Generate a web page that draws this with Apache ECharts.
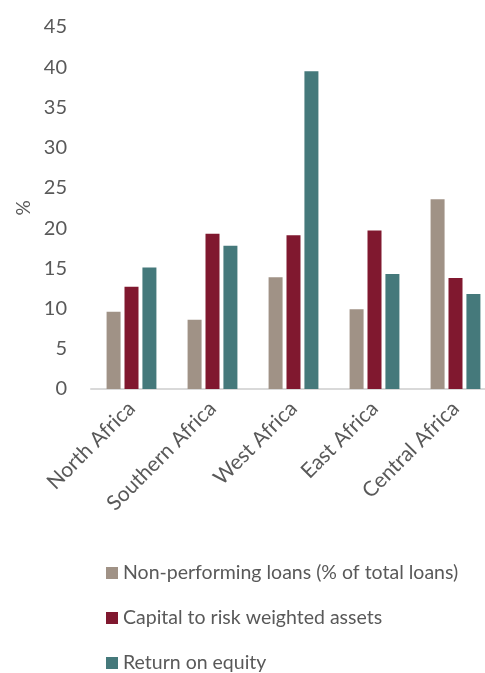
<!DOCTYPE html>
<html><head><meta charset="utf-8">
<script src="https://cdn.jsdelivr.net/npm/echarts@6/dist/echarts.min.js"></script>
<style>html,body{margin:0;padding:0;background:#fff}#c{width:485px;height:673px}</style>
</head><body><div id="c"></div>
<script>
var categories = ['North Africa','Southern Africa','West Africa','East Africa','Central Africa'];
var seriesNames = ['Non-performing loans (% of total loans)','Capital to risk weighted assets','Return on equity'];
var npl = [9.6, 8.6, 13.9, 9.9, 23.6];
var car = [12.7, 19.3, 19.1, 19.7, 13.8];
var roe = [15.1, 17.8, 39.5, 14.3, 11.8];
var yTicks = [0,5,10,15,20,25,30,35,40,45];
var colors = ['#A09286','#80182F','#45797B'];
var font = 'Lato, "Open Sans", sans-serif';
var chart = echarts.init(document.getElementById('c'));
var data = [npl, car, roe];
var legendTops = [563, 608, 653];
chart.setOption({
  animation:false,
  color: colors,
  textStyle:{fontFamily:font, color:'#595959'},
  grid:{left:91, right:-11, top:27, bottom:284, outerBoundsMode:'none', containLabel:false},
  legend: seriesNames.map(function(n,i){return {orient:'horizontal', left:106, top:legendTops[i], padding:0,
    itemWidth:12, itemHeight:12, icon:'rect',
    textStyle:{fontSize:19.5, color:'#595959', fontFamily:font},
    data:[n]};}),
  xAxis:{type:'category', data:categories,
    axisLine:{lineStyle:{color:'#D9D9D9', width:2}}, axisTick:{show:false},
    axisLabel:{rotate:45, fontSize:21, color:'#595959', margin:16, interval:0, fontFamily:font}},
  yAxis:{type:'value', min:yTicks[0], max:yTicks[yTicks.length-1], interval:5,
    name:'%', nameLocation:'middle', nameRotate:90, nameGap:58,
    nameTextStyle:{fontSize:19, color:'#595959', fontFamily:font},
    splitLine:{show:false}, axisLine:{show:false}, axisTick:{show:false},
    axisLabel:{fontSize:20, color:'#595959', margin:24, fontFamily:font}},
  series: seriesNames.map(function(n,i){return {name:n, type:'bar', data:data[i], barWidth:14, barGap:'28%'};})
});
</script></body></html>
